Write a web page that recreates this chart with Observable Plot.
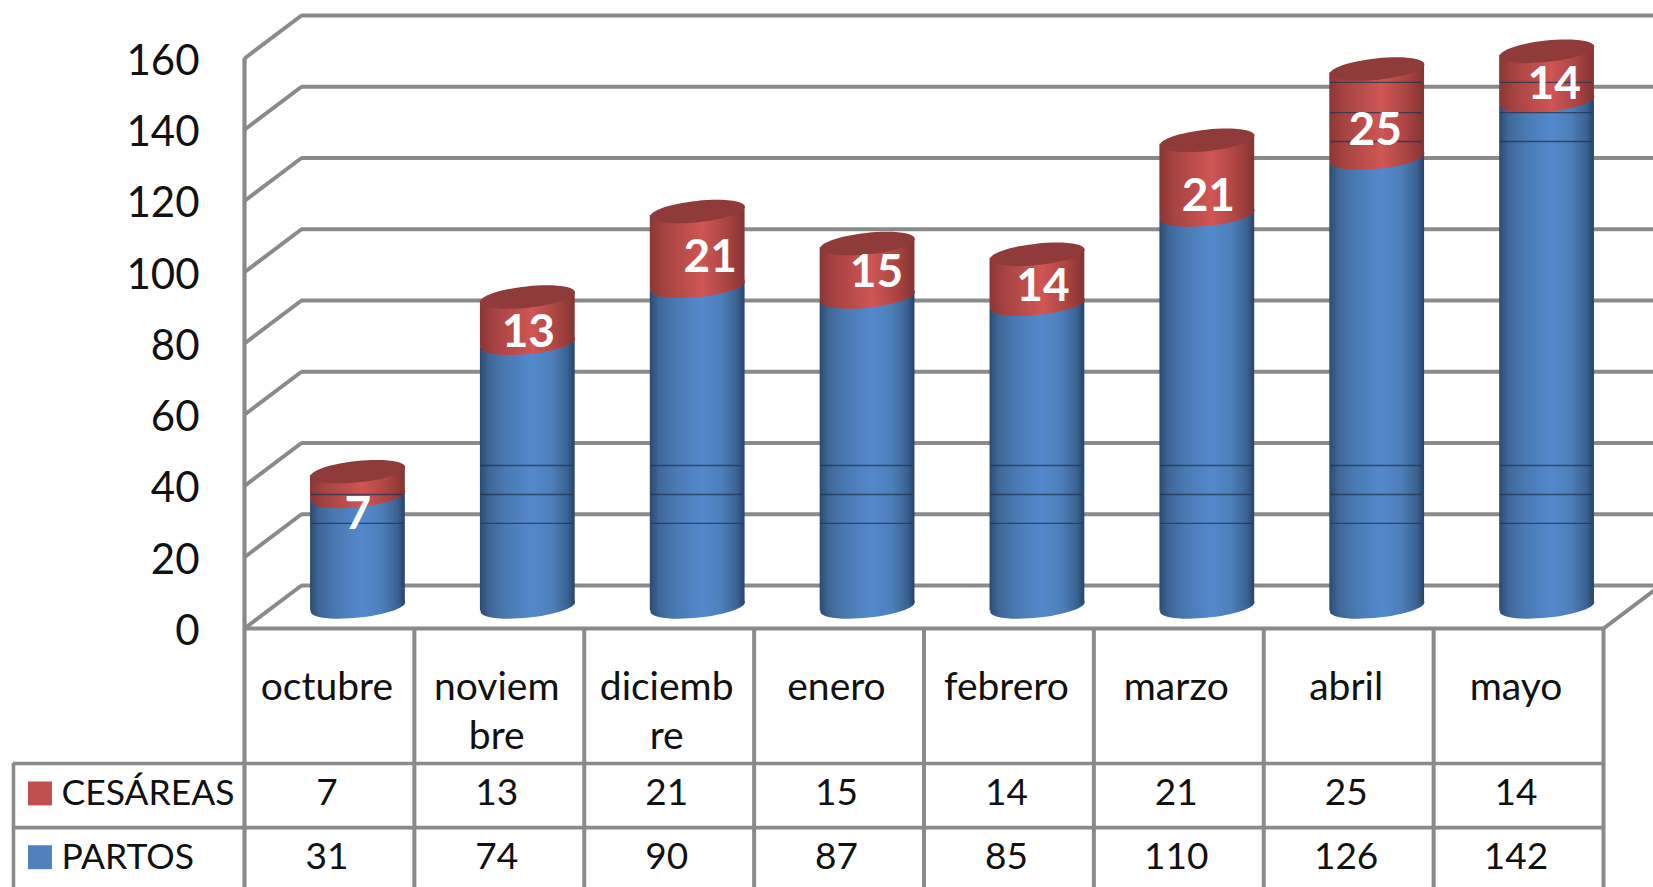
<!DOCTYPE html>
<html lang="es">
<head>
<meta charset="utf-8">
<title>Partos y cesáreas por mes</title>
<script src="https://cdn.jsdelivr.net/npm/d3@7"></script>
<script src="https://cdn.jsdelivr.net/npm/@observablehq/plot@0.6"></script>
<style>
  html, body { margin: 0; padding: 0; background: #fff; overflow: hidden; }
  svg { display: block; }
</style>
</head>
<body>
<div id="grafico"></div>
<script>
// Datos por mes
const meses = ["octubre", "noviembre", "diciembre", "enero", "febrero", "marzo", "abril", "mayo"];
const etiquetasMes = ["octubre", "noviem\nbre", "diciemb\nre", "enero", "febrero", "marzo", "abril", "mayo"];
const partos = [31, 74, 90, 87, 85, 110, 126, 142];
const cesareas = [7, 13, 21, 15, 14, 21, 25, 14];
const marcasEje = [0, 20, 40, 60, 80, 100, 120, 140, 160];

// Perspectiva del gráfico, en unidades de las escalas x e y
const fondoX = 0.3355;   // desplazamiento de la pared trasera
const fondoY = 12.07;
const mitadCilindro = 0.279;
const inclinacion = 1.12; // caída de la tapa entre el centro y el borde
const elevacionCentro = 6.04; // los cilindros se apoyan a media profundidad

// Ajustes de las etiquetas blancas respecto al centro de cada tramo
const ajusteEtiquetaX = [0, 0.003, 0.074, 0.053, 0.033, 0.006, -0.012, 0.042];
const ajusteEtiquetaY = [-8.5, -3.4, -2.3, -0.6, -2.1, -5.3, -4.8, -2.3];

// Filetes oscuros que cruzan los cilindros
const filetes = [153.3, 144.8, 136.7, 45.75, 37.6, 29.5];

// Tabla de datos bajo el eje
const lineasFila = [-37.9, -55.9];
const finTabla = -72.7;
const bordeTabla = -1.36;
const xLeyenda = -1.204;
const xTextoLeyenda = -1.077;
const ajusteColumna = -0.015;
const yMeses = -10;
const yCesareas = -46.3;
const yPartos = -64.2;

const filas = meses.map((mes, i) => {
  const base = i + 0.5 + fondoX / 2;
  return {
    mes, i,
    etiqueta: etiquetasMes[i],
    partos: partos[i],
    cesareas: cesareas[i],
    total: partos[i] + cesareas[i],
    centro: base,
    izq: base - mitadCilindro,
    der: base + mitadCilindro
  };
});

// Cuerpo de cada tramo: un paralelogramo con la inclinación de las tapas
const cuerpo = (abajo, arriba) => filas.flatMap((d) => [
  {mes: d.mes, x: d.izq, y1: abajo(d) - inclinacion + elevacionCentro, y2: arriba(d) - inclinacion + elevacionCentro},
  {mes: d.mes, x: d.der, y1: abajo(d) + inclinacion + elevacionCentro, y2: arriba(d) + inclinacion + elevacionCentro}
]);

// Elipse de las tapas y las bases de los cilindros
const elipse = {
  draw(ctx, size) {
    const a = Math.sqrt(size / Math.PI);
    const b = a * 0.225;
    const k = 0.5523;
    ctx.moveTo(-a, 0);
    ctx.bezierCurveTo(-a, -b * k, -a * k, -b, 0, -b);
    ctx.bezierCurveTo(a * k, -b, a, -b * k, a, 0);
    ctx.bezierCurveTo(a, b * k, a * k, b, 0, b);
    ctx.bezierCurveTo(-a * k, b, -a, b * k, -a, 0);
    ctx.closePath();
  }
};
const radioElipse = 47.5;
const giroElipse = -6;

// Degradados horizontales que dan volumen a los cilindros
function degradados() {
  const ns = "http://www.w3.org/2000/svg";
  const defs = document.createElementNS(ns, "defs");
  const paradas = {
    azul: [[0, "#2c4b73"], [0.1, "#3f6899"], [0.28, "#4a7ab4"], [0.55, "#5389cc"], [0.76, "#4c7eb9"], [0.92, "#3a6392"], [1, "#27436a"]],
    rojo: [[0, "#8a3735"], [0.15, "#a64341"], [0.55, "#cf5654"], [0.8, "#ac4543"], [1, "#843432"]],
    tapa: [[0, "#8f3b39"], [1, "#8f3b39"]]
  };
  for (const [id, lista] of Object.entries(paradas)) {
    const g = document.createElementNS(ns, "linearGradient");
    g.setAttribute("id", id);
    for (const [o, c] of lista) {
      const s = document.createElementNS(ns, "stop");
      s.setAttribute("offset", o);
      s.setAttribute("stop-color", c);
      g.appendChild(s);
    }
    defs.appendChild(g);
  }
  return defs;
}

const colorLinea = "#8a8a8a";
const grosorLinea = 4;
const fuente = "Lato";

const grafico = Plot.plot({
  width: 1653,
  height: 887,
  marginLeft: 244,
  marginRight: 50,
  marginTop: 58,
  marginBottom: 0,
  style: {fontFamily: fuente, background: "#fff", color: "#111"},
  x: {domain: [0, 8], axis: null},
  y: {domain: [finTabla, 160], axis: null},
  marks: [
    degradados,

    // Pared trasera y suelo en perspectiva
    Plot.ruleY(marcasEje, {y: (d) => d + fondoY, x1: fondoX, x2: 8 + fondoX, stroke: colorLinea, strokeWidth: grosorLinea}),
    Plot.link(marcasEje, {x1: 0, y1: (d) => d, x2: fondoX, y2: (d) => d + fondoY, stroke: colorLinea, strokeWidth: grosorLinea}),
    Plot.link([0], {x1: 8, y1: 0, x2: 8 + fondoX, y2: fondoY, stroke: colorLinea, strokeWidth: grosorLinea}),

    // Cilindros apilados
    Plot.dot(filas, {x: "centro", y: (d) => elevacionCentro, r: radioElipse, symbol: elipse, rotate: giroElipse, fill: "url(#azul)"}),
    Plot.areaY(cuerpo(() => 0, (d) => d.partos), {x: "x", y1: "y1", y2: "y2", z: "mes", fill: "url(#azul)"}),
    Plot.dot(filas, {x: "centro", y: (d) => d.partos + elevacionCentro, r: radioElipse, symbol: elipse, rotate: giroElipse, fill: "url(#rojo)"}),
    Plot.areaY(cuerpo((d) => d.partos, (d) => d.total), {x: "x", y1: "y1", y2: "y2", z: "mes", fill: "url(#rojo)"}),
    Plot.dot(filas, {x: "centro", y: (d) => d.total + elevacionCentro, r: radioElipse, symbol: elipse, rotate: giroElipse, fill: "url(#tapa)"}),

    // Filetes sobre los cilindros
    Plot.ruleY(
      d3.cross(filas, filetes).filter(([d, y]) => y - d.total < 2.95).map(([d, y]) => ({y, x1: d.izq + 0.004, x2: d.der - 0.012})),
      {y: "y", x1: "x1", x2: "x2", stroke: "#1f3450", strokeWidth: 1.4, strokeOpacity: 0.75}
    ),

    // Valores de cesáreas sobre el tramo rojo
    Plot.text(filas, {
      x: (d) => d.centro + ajusteEtiquetaX[d.i],
      y: (d) => d.partos + d.cesareas / 2 + elevacionCentro + ajusteEtiquetaY[d.i],
      text: (d) => String(d.cesareas),
      fill: "#fff",
      fontSize: 46,
      fontWeight: 700
    }),

    // Eje vertical
    Plot.ruleX([0], {y1: finTabla, y2: 160, stroke: colorLinea, strokeWidth: 4.2}),
    Plot.axisY({ticks: marcasEje, tickSize: 0, tickPadding: 45, fontSize: 42, dy: 3, label: null, fill: "#111", tickFormat: (d) => String(d)}),

    // Retícula de la tabla
    Plot.ruleY([0], {x1: 0, x2: 8, stroke: colorLinea, strokeWidth: 4.2}),
    Plot.ruleX(d3.range(1, 9), {y1: finTabla, y2: 0, stroke: colorLinea, strokeWidth: 4}),
    Plot.ruleY(lineasFila, {x1: bordeTabla, x2: 8, stroke: colorLinea, strokeWidth: 3.6}),
    Plot.ruleX([bordeTabla], {y1: finTabla, y2: lineasFila[0], stroke: colorLinea, strokeWidth: 3.6}),

    // Contenido de la tabla
    Plot.text(filas, {x: (d) => d.i + 0.5 + ajusteColumna, y: yMeses, text: "etiqueta", fontSize: 39, lineAnchor: "top", lineHeight: 1.28, fill: "#111"}),
    Plot.text(filas, {x: (d) => d.i + 0.5 + ajusteColumna, y: yCesareas, text: (d) => String(d.cesareas), fontSize: 37, fill: "#111"}),
    Plot.text(filas, {x: (d) => d.i + 0.5 + ajusteColumna, y: yPartos, text: (d) => String(d.partos), fontSize: 37, fill: "#111"}),

    // Leyenda en la primera columna
    Plot.dot([yCesareas], {x: xLeyenda, y: (d) => d, r: 13.5, symbol: "square", fill: "#c0504d"}),
    Plot.dot([yPartos], {x: xLeyenda, y: (d) => d, r: 13.5, symbol: "square", fill: "#4f81bd"}),
    Plot.text(["CESÁREAS"], {x: xTextoLeyenda, y: yCesareas, text: (d) => d, textAnchor: "start", fontSize: 35.5, fill: "#111"}),
    Plot.text(["PARTOS"], {x: xTextoLeyenda, y: yPartos, text: (d) => d, textAnchor: "start", fontSize: 35.5, fill: "#111"})
  ]
});

document.getElementById("grafico").appendChild(grafico);
</script>
</body>
</html>
